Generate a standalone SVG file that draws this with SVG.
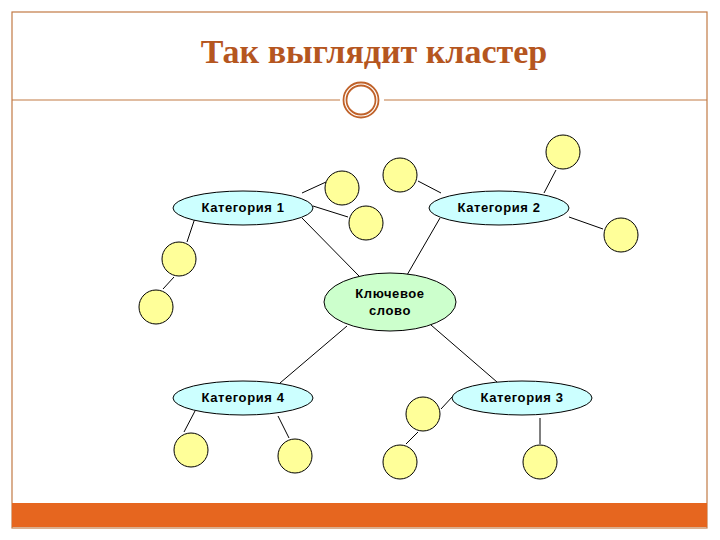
<svg xmlns="http://www.w3.org/2000/svg" width="720" height="540" viewBox="0 0 720 540">
<style>
.frame{fill:none;stroke:#c27a45;stroke-width:1.2}
.cat{fill:#ccffff;stroke:#000;stroke-width:1}
.key{fill:#ccffcc;stroke:#000;stroke-width:1}
.leaf{fill:#ffff99;stroke:#000;stroke-width:1}
.lbl{font-family:"Liberation Sans",Arial,sans-serif;font-size:13px;letter-spacing:0.6px;font-weight:bold;fill:#000;text-anchor:middle}
#connectors line{stroke:#000;stroke-width:1}
</style>
<rect width="720" height="540" fill="#fff"/>
<g id="frame">
<rect class="frame" x="12" y="12" width="695" height="516"/>
<line class="frame" x1="12" y1="100" x2="340" y2="100"/>
<line class="frame" x1="384" y1="100" x2="707" y2="100"/>
<circle cx="361" cy="100" r="17.5" fill="none" stroke="#c0622a" stroke-width="1.8"/>
<circle cx="361" cy="100" r="14.5" fill="none" stroke="#c0622a" stroke-width="1.8"/>
<rect x="12" y="503" width="695" height="24" fill="#e6661f"/>
</g>
<text x="374" y="63" font-family="'Liberation Serif','Times New Roman',serif" font-size="34" font-weight="bold" fill="#b5561f" text-anchor="middle">Так выглядит кластер</text>
<g id="connectors">
<line x1="302" y1="193" x2="326" y2="182"/>
<line x1="313" y1="206" x2="348" y2="217"/>
<line x1="302" y1="218" x2="359" y2="276"/>
<line x1="195" y1="218" x2="187" y2="242"/>
<line x1="174" y1="277" x2="163" y2="289"/>
<line x1="418" y1="181" x2="441" y2="193"/>
<line x1="556" y1="170" x2="544" y2="193"/>
<line x1="569" y1="217" x2="603" y2="229"/>
<line x1="440" y1="218" x2="407" y2="275"/>
<line x1="347" y1="326" x2="280" y2="383"/>
<line x1="431" y1="325" x2="497" y2="382"/>
<line x1="195" y1="411" x2="184" y2="432"/>
<line x1="278" y1="416" x2="289" y2="438"/>
<line x1="441" y1="409" x2="453" y2="396"/>
<line x1="418" y1="432" x2="406" y2="444"/>
<line x1="540" y1="418" x2="540" y2="444"/>
</g>
<g id="key"><ellipse class="key" cx="390" cy="302" rx="66" ry="29"/><text class="lbl" x="390" y="298">Ключевое</text><text class="lbl" x="390" y="315">слово</text></g>
<g id="cat1"><ellipse class="cat" cx="243" cy="208" rx="70" ry="17"/><text class="lbl" x="243" y="212">Категория 1</text></g>
<g id="cat2"><ellipse class="cat" cx="499" cy="208" rx="70" ry="17"/><text class="lbl" x="499" y="212">Категория 2</text></g>
<g id="cat3"><ellipse class="cat" cx="522" cy="398" rx="70" ry="17"/><text class="lbl" x="522" y="402">Категория 3</text></g>
<g id="cat4"><ellipse class="cat" cx="243" cy="398" rx="70" ry="17"/><text class="lbl" x="243" y="402">Категория 4</text></g>
<g id="leaf1"><circle class="leaf" cx="342" cy="188" r="17"/></g>
<g id="leaf2"><circle class="leaf" cx="366" cy="223" r="17"/></g>
<g id="leaf3"><circle class="leaf" cx="400" cy="175" r="17"/></g>
<g id="leaf4"><circle class="leaf" cx="563" cy="152" r="17"/></g>
<g id="leaf5"><circle class="leaf" cx="621" cy="235" r="17"/></g>
<g id="leaf6"><circle class="leaf" cx="179" cy="259" r="17"/></g>
<g id="leaf7"><circle class="leaf" cx="156" cy="307" r="17"/></g>
<g id="leaf8"><circle class="leaf" cx="191" cy="450" r="17"/></g>
<g id="leaf9"><circle class="leaf" cx="295" cy="456" r="17"/></g>
<g id="leaf10"><circle class="leaf" cx="423" cy="414" r="17"/></g>
<g id="leaf11"><circle class="leaf" cx="400" cy="462" r="17"/></g>
<g id="leaf12"><circle class="leaf" cx="540" cy="462" r="17"/></g>
</svg>
